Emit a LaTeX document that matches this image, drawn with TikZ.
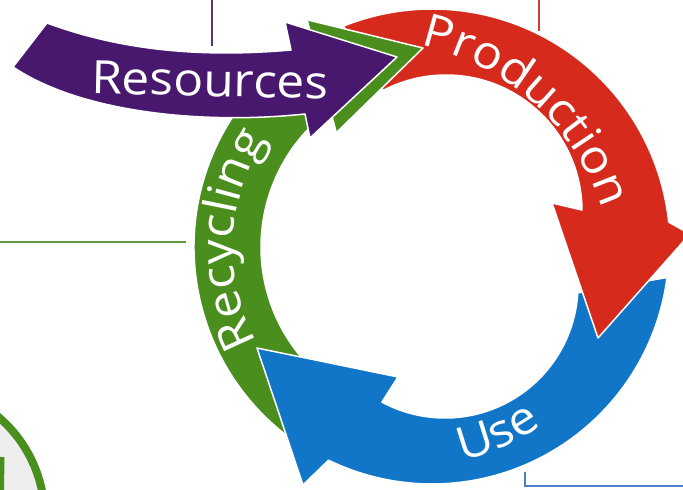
\documentclass[tikz,border=0pt]{standalone}
\usepackage{fontspec}
\newfontfamily\osans[FakeStretch=1.08]{Open Sans}
\usetikzlibrary{calc,decorations.text}
\definecolor{cpurple}{RGB}{72,24,110}
\definecolor{cgreen}{RGB}{74,142,30}
\definecolor{cred}{RGB}{214,42,28}
\definecolor{cblue}{RGB}{18,118,200}
\definecolor{lpurple}{RGB}{85,50,125}
\definecolor{lred}{RGB}{205,60,55}
\definecolor{lgreen}{RGB}{95,155,60}
\definecolor{lblue}{RGB}{75,130,200}
\definecolor{cgray}{RGB}{238,238,238}
\begin{document}
\begin{tikzpicture}[x=1pt,y=-1pt,
  band/.style={draw=white, line width=1.5pt, line join=round},
  linkline/.style={line width=2.5pt},
  lbl/.style={text=white, font=\osans\fontsize{46}{48}\selectfont, inner sep=0pt},
]
\useasboundingbox (0,0) rectangle (683,490);
\fill[white] (0,0) rectangle (683,490);
\clip (0,0) rectangle (683,490);
\coordinate (O) at (432,247);
\coordinate (Ri) at (446,211);
\coordinate (Bi) at (445,285);
\coordinate (Uc) at (415,250);
\coordinate (Pc) at (370,284);
\coordinate (Gc) at (427,248);
% background connector lines
\coordinate (pl1) at (212,0);   \coordinate (pl2) at (212,46);
\coordinate (rl1) at (539,0);   \coordinate (rl2) at (539,31);
\coordinate (gl1) at (0,242);   \coordinate (gl2) at (186,242);
\coordinate (bl1) at (525,472); \coordinate (bl2) at (525,486); \coordinate (bl3) at (683,486);
\draw[linkline, lpurple] (pl1) -- (pl2);
\draw[linkline, lred] (rl1) -- (rl2);
\draw[linkline, lgreen] (gl1) -- (gl2);
\draw[linkline, lblue] (bl1) -- (bl2) -- (bl3);
% bottom-left circle
\coordinate (gc) at (-86.5,516.7);
\coordinate (gi1) at (2,457); \coordinate (gi2) at (1.5,490);
\filldraw[fill=cgray, draw=cgreen, line width=8pt] (gc) circle[radius=131];
\draw[cgreen, line width=5pt] (gi1) -- (gi2);
% green (Recycling)
\path[band, fill=cgreen] ($(O)+(122:238)$) arc[start angle=122, end angle=240.1, radius=238]
  -- (308,20) -- (423,48) -- (337,132) -- ($(O)+(233.8:171)$)
  arc[start angle=233.8, end angle=135, radius=171] -- cycle;
% blue (Use)
\path[band, fill=cblue] ($(Bi)+(3.4:133)$) -- ($(O)+(7.4:237)$)
  arc[start angle=7.4, end angle=115.9, radius=237]
  -- (303,485) -- (257,348) -- (398,377) -- ($(Bi)+(118.3:133)$)
  arc[start angle=118.3, end angle=3.4, radius=133] -- cycle;
% red (Production)
\path[band, fill=cred] ($(O)+(-111.85:238)$) arc[start angle=-111.85, end angle=-6, radius=238]
  -- (690,234) -- (598,338) -- (552,203) -- ($(Ri)+(-0.4:136)$)
  arc[start angle=-0.4, end angle=-117.5, radius=136] -- cycle;
% green arrowhead on top of red tail
\fill[cgreen] (308,20) -- (423,48) -- (337,132) -- cycle;
\draw[white, line width=1.5pt, line join=round] (308,20) -- (423,48) -- (337,132);
% purple (Resources)
\path[band, fill=cpurple] (47,23) .. controls (120,50) and (200,58) .. (291,50)
  -- (285,22) -- (397,57) -- (310,138) -- (305,114)
  .. controls (200,125) and (80,112) .. (13,67) -- cycle;
% labels
\node[lbl, rotate=-1.2] (res) at (210,80) {Resources};
\path[decorate, decoration={text along path, text align=center,
  text={|\osans\fontsize{46}{48}\selectfont\color{white}|Production}}]
  ($(Pc)+(-94:244)$) arc[start angle=-94, end angle=-2, radius=244];
\path[decorate, decoration={text along path, text align=center,
  text={|\osans\fontsize{46}{48}\selectfont\color{white}|Use}}]
  ($(Uc)+(105.7:216)$) arc[start angle=105.7, end angle=25.7, radius=216];
\path[decorate, decoration={text along path, text align=center,
  text={|\osans\fontsize{46}{48}\selectfont\color{white}|Recycling}}]
  ($(Gc)+(132.5:194)$) arc[start angle=132.5, end angle=232.5, radius=194];
\end{tikzpicture}
\end{document}
